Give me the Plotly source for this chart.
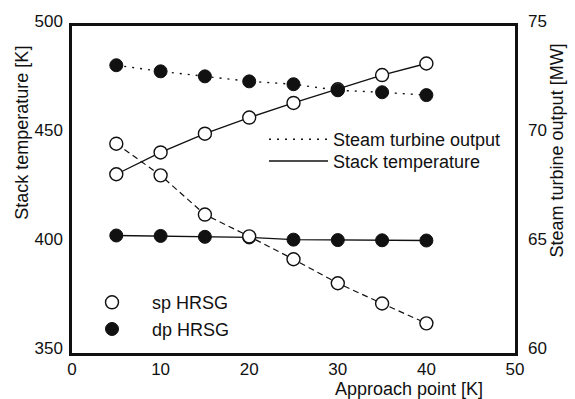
import plotly.graph_objects as go

approach = [5, 10, 15, 20, 25, 30, 35, 40]
sp_stack_temp = [432, 442, 450.6, 458, 464.7, 471, 477.5, 482.8]
dp_stack_temp = [403.9, 403.7, 403.3, 403.0, 402.0, 401.8, 401.7, 401.6]
sp_steam_out = [69.6, 68.15, 66.35, 65.35, 64.3, 63.2, 62.27, 61.36]
dp_steam_out = [73.2, 72.92, 72.69, 72.46, 72.33, 72.05, 71.96, 71.83]

FONT = "Liberation Sans, Arial, sans-serif"
black = "#111111"
open_marker = dict(symbol="circle", size=13, color="white", line=dict(color=black, width=1.4))
fill_marker = dict(symbol="circle", size=13, color=black, line=dict(color=black, width=1))
DOT = "2px,6px"
DASH = "6px,4px"

fig = go.Figure()
# steam turbine output (right axis)
fig.add_trace(go.Scatter(x=approach, y=sp_steam_out, yaxis="y2", mode="lines+markers",
                         line=dict(color=black, width=1.2, dash=DASH), marker=open_marker,
                         showlegend=False))
fig.add_trace(go.Scatter(x=approach, y=dp_steam_out, yaxis="y2", mode="lines+markers",
                         line=dict(color=black, width=1.4, dash=DOT), marker=fill_marker,
                         showlegend=False))
# stack temperature (left axis)
fig.add_trace(go.Scatter(x=approach, y=sp_stack_temp, mode="lines+markers",
                         line=dict(color=black, width=1.3), marker=open_marker, showlegend=False))
fig.add_trace(go.Scatter(x=approach, y=dp_stack_temp, mode="lines+markers",
                         line=dict(color=black, width=1.3), marker=fill_marker, showlegend=False))

# legend entries (one legend box per entry for exact placement)
fig.add_trace(go.Scatter(x=[None], y=[None], mode="lines", name="Steam turbine output",
                         line=dict(color=black, width=1.4, dash=DOT), legend="legend"))
fig.add_trace(go.Scatter(x=[None], y=[None], mode="lines", name="Stack temperature",
                         line=dict(color=black, width=1.4), legend="legend2"))
fig.add_trace(go.Scatter(x=[None], y=[None], mode="markers", name="sp HRSG",
                         marker=open_marker, legend="legend3"))
fig.add_trace(go.Scatter(x=[None], y=[None], mode="markers", name="dp HRSG",
                         marker=fill_marker, legend="legend4"))

W, H = 575, 399
L, R, T, B = 72, 60, 22, 46
pw, ph = W - L - R, H - T - B

def px(x):
    return (x - L) / pw

def py(y):
    return (H - B - y) / ph

def leg(x, yc, w):
    return dict(x=px(x), y=py(yc), xanchor="left", yanchor="middle", bgcolor="rgba(0,0,0,0)",
                font=dict(size=18), itemwidth=w, borderwidth=0)

fig.update_layout(
    width=W, height=H,
    margin=dict(l=L, r=R, t=T, b=B),
    paper_bgcolor="white", plot_bgcolor="white",
    font=dict(family=FONT, size=17, color=black),
    xaxis=dict(range=[0, 50], tickvals=[0, 10, 20, 30, 40, 50], showgrid=False, zeroline=False,
               showline=True, linecolor=black, linewidth=2.5, mirror=True, ticks="",
               tickfont=dict(size=17), ticklabelstandoff=-1),
    yaxis=dict(range=[350, 500], tickvals=[350, 400, 450, 500], showgrid=False, zeroline=False,
               showline=True, linecolor=black, linewidth=2.5, mirror=True, ticks="",
               tickfont=dict(size=17), ticklabelstandoff=3, ticklabelshift=-5),
    yaxis2=dict(range=[60, 75], tickvals=[60, 65, 70, 75], overlaying="y", side="right",
                showgrid=False, zeroline=False, showline=False, ticks="",
                tickfont=dict(size=17), ticklabelstandoff=12, ticklabelshift=-5),
    legend=leg(264, 137, 59),
    legend2=leg(264, 159, 59),
    legend3=leg(72, 302, 70),
    legend4=leg(72, 329, 70),
    annotations=[
        dict(text="Stack temperature [K]", x=px(22), y=py(130), xref="paper", yref="paper",
             xanchor="center", yanchor="middle",
             textangle=-90, showarrow=False, font=dict(size=18)),
        dict(text="Steam turbine output [MW]", x=px(557), y=py(148), xref="paper", yref="paper",
             xanchor="center", yanchor="middle",
             textangle=-90, showarrow=False, font=dict(size=18)),
        dict(text="Approach point [K]", x=px(409), y=py(389), xref="paper", yref="paper",
             xanchor="center", yanchor="middle",
             showarrow=False, font=dict(size=18)),
    ],
)

fig.write_html("out.html")
